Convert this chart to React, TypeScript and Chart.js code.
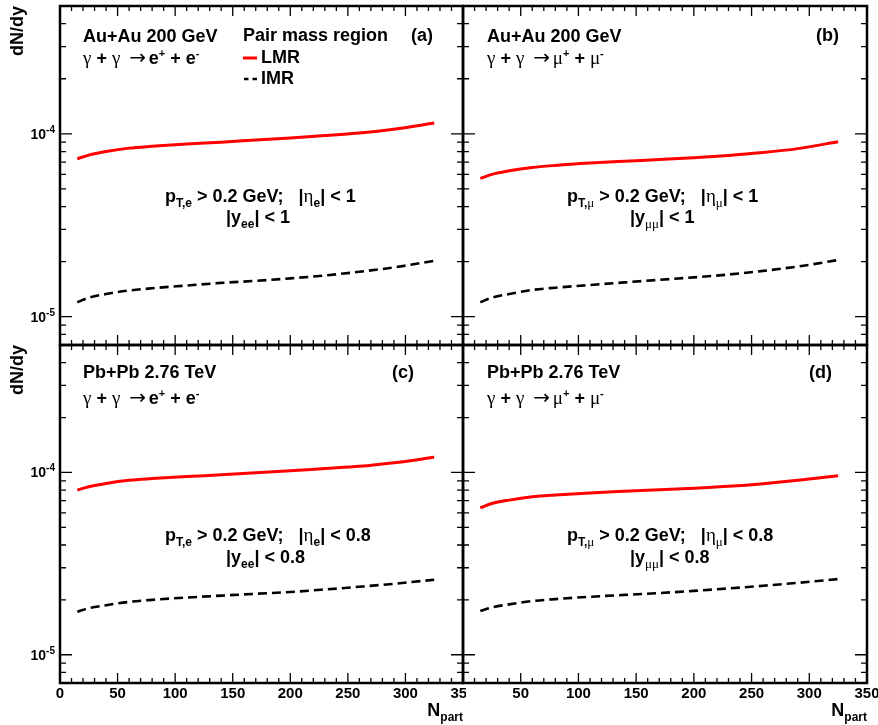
import React, { useEffect, useRef } from "react";
import { Chart, registerables } from "chart.js";
Chart.register(...registerables);

// ---------------- data ----------------
const nPart = [15, 25, 40, 60, 80, 110, 140, 170, 200, 230, 260, 290, 325];
const lmrAuAuEE = [7.3e-5, 7.65e-5, 8.0e-5, 8.35e-5, 8.55e-5, 8.8e-5, 9.0e-5, 9.25e-5, 9.5e-5, 9.8e-5, 1.01e-4, 1.06e-4, 1.145e-4];
const imrAuAuEE = [1.2e-5, 1.27e-5, 1.33e-5, 1.39e-5, 1.43e-5, 1.48e-5, 1.53e-5, 1.57e-5, 1.62e-5, 1.68e-5, 1.76e-5, 1.86e-5, 2.02e-5];
const lmrAuAuMuMu = [5.7e-5, 6.0e-5, 6.28e-5, 6.55e-5, 6.72e-5, 6.92e-5, 7.08e-5, 7.23e-5, 7.4e-5, 7.62e-5, 7.9e-5, 8.3e-5, 9.05e-5];
const imrAuAuMuMu = [1.2e-5, 1.27e-5, 1.33e-5, 1.4e-5, 1.44e-5, 1.49e-5, 1.54e-5, 1.59e-5, 1.64e-5, 1.7e-5, 1.78e-5, 1.88e-5, 2.04e-5];
const lmrPbPbEE = [8.0e-5, 8.35e-5, 8.7e-5, 9.05e-5, 9.25e-5, 9.5e-5, 9.7e-5, 9.95e-5, 1.02e-4, 1.05e-4, 1.08e-4, 1.13e-4, 1.21e-4];
const imrPbPbEE = [1.72e-5, 1.8e-5, 1.87e-5, 1.95e-5, 2.0e-5, 2.06e-5, 2.11e-5, 2.16e-5, 2.21e-5, 2.28e-5, 2.36e-5, 2.45e-5, 2.58e-5];
const lmrPbPbMuMu = [6.4e-5, 6.75e-5, 7.05e-5, 7.35e-5, 7.52e-5, 7.72e-5, 7.88e-5, 8.03e-5, 8.2e-5, 8.4e-5, 8.68e-5, 9.05e-5, 9.6e-5];
const imrPbPbMuMu = [1.74e-5, 1.82e-5, 1.89e-5, 1.97e-5, 2.02e-5, 2.08e-5, 2.13e-5, 2.18e-5, 2.24e-5, 2.31e-5, 2.39e-5, 2.48e-5, 2.6e-5];

const xTickLabels = [0, 50, 100, 150, 200, 250, 300, 350];
const yLabelDecades = [-4, -5];
const xMin = 0;
const xMax = 350;
const yMin = 7e-6;
const yMax = 5e-4;

// ---------------- styling helpers ----------------
const B = (s: number) => `bold ${s}px "Liberation Sans", Arial, Helvetica, sans-serif`;
const SY = (s: number) => `${s}px "Liberation Serif", "Times New Roman", serif`;
const AR = (s: number) => `${s}px "DejaVu Sans", sans-serif`;

type Seg = { t: string; f: string; dy?: number };
type Txt = { segs: Seg[]; x: number; y: number; align?: "left" | "center" | "right" };

function drawRich(ctx: CanvasRenderingContext2D, segs: Seg[], x: number, y: number, align: string = "left") {
  let w = 0;
  for (const s of segs) {
    ctx.font = s.f;
    w += ctx.measureText(s.t).width;
  }
  let cx = align === "left" ? x : align === "center" ? x - w / 2 : x - w;
  ctx.textAlign = "left";
  ctx.textBaseline = "alphabetic";
  ctx.fillStyle = "#000";
  for (const s of segs) {
    ctx.font = s.f;
    ctx.fillText(s.t, cx, y + (s.dy || 0));
    cx += ctx.measureText(s.t).width;
  }
}

const reaction = (lep: Seg): Seg[] => [
  { t: "γ", f: SY(19) },
  { t: " + ", f: B(18) },
  { t: "γ", f: SY(19) },
  { t: "  ", f: SY(18) },
  { t: "→", f: AR(20) },
  { t: " ", f: SY(11) },
  lep,
  { t: "+", f: B(11), dy: -7 },
  { t: " + ", f: B(18) },
  lep,
  { t: "-", f: B(11), dy: -7 },
];
const reactionEE = reaction({ t: "e", f: B(18) });
const reactionMuMu = reaction({ t: "μ", f: SY(19) });

const cutLineE = (lim: string): Seg[] => [
  { t: "p", f: B(18) },
  { t: "T,e", f: B(12), dy: 5 },
  { t: " > 0.2 GeV;   |", f: B(18) },
  { t: "η", f: SY(19) },
  { t: "e", f: B(12), dy: 5 },
  { t: "| < " + lim, f: B(18) },
];
const cutLine2E = (lim: string): Seg[] => [
  { t: "|y", f: B(18) },
  { t: "ee", f: B(12), dy: 5 },
  { t: "| < " + lim, f: B(18) },
];
const cutLineMu = (lim: string): Seg[] => [
  { t: "p", f: B(18) },
  { t: "T,", f: B(12), dy: 5 },
  { t: "μ", f: SY(13), dy: 5 },
  { t: " > 0.2 GeV;   |", f: B(18) },
  { t: "η", f: SY(19) },
  { t: "μ", f: SY(13), dy: 5 },
  { t: "| < " + lim, f: B(18) },
];
const cutLine2Mu = (lim: string): Seg[] => [
  { t: "|y", f: B(18) },
  { t: "μμ", f: SY(13), dy: 5 },
  { t: "| < " + lim, f: B(18) },
];

type Panel = {
  left: number;
  top: number;
  w: number;
  h: number;
  pad: { left: number; top: number; right: number; bottom: number };
  lmr: number[];
  imr: number[];
  xLabels: boolean;
  skipZero: boolean;
  yLabels: boolean;
  legend: boolean;
  texts: Txt[];
};

const PANELS: Panel[] = [
  {
    left: 0, top: 0, w: 466, h: 348,
    pad: { left: 60, top: 6, right: 3, bottom: 3 },
    lmr: lmrAuAuEE, imr: imrAuAuEE,
    xLabels: false, skipZero: false, yLabels: true, legend: true,
    texts: [
      { segs: [{ t: "Au+Au 200 GeV", f: B(18) }], x: 83, y: 42 },
      { segs: reactionEE, x: 83, y: 64 },
      { segs: [{ t: "(a)", f: B(18) }], x: 411, y: 41 },
      { segs: cutLineE("1"), x: 165, y: 202 },
      { segs: cutLine2E("1"), x: 226, y: 223 },
    ],
  },
  {
    left: 460, top: 0, w: 418, h: 348,
    pad: { left: 3, top: 6, right: 11, bottom: 3 },
    lmr: lmrAuAuMuMu, imr: imrAuAuMuMu,
    xLabels: false, skipZero: true, yLabels: false, legend: false,
    texts: [
      { segs: [{ t: "Au+Au 200 GeV", f: B(18) }], x: 487, y: 42 },
      { segs: reactionMuMu, x: 487, y: 64 },
      { segs: [{ t: "(b)", f: B(18) }], x: 816, y: 41 },
      { segs: cutLineMu("1"), x: 567, y: 202 },
      { segs: cutLine2Mu("1"), x: 630, y: 223 },
    ],
  },
  {
    left: 0, top: 342, w: 466, h: 383,
    pad: { left: 60, top: 3, right: 3, bottom: 42 },
    lmr: lmrPbPbEE, imr: imrPbPbEE,
    xLabels: true, skipZero: false, yLabels: true, legend: false,
    texts: [
      { segs: [{ t: "Pb+Pb 2.76 TeV", f: B(18) }], x: 83, y: 378 },
      { segs: reactionEE, x: 83, y: 404 },
      { segs: [{ t: "(c)", f: B(18) }], x: 392, y: 378 },
      { segs: cutLineE("0.8"), x: 165, y: 541 },
      { segs: cutLine2E("0.8"), x: 226, y: 563 },
    ],
  },
  {
    left: 460, top: 342, w: 418, h: 383,
    pad: { left: 3, top: 3, right: 11, bottom: 42 },
    lmr: lmrPbPbMuMu, imr: imrPbPbMuMu,
    xLabels: true, skipZero: true, yLabels: false, legend: false,
    texts: [
      { segs: [{ t: "Pb+Pb 2.76 TeV", f: B(18) }], x: 487, y: 378 },
      { segs: reactionMuMu, x: 487, y: 404 },
      { segs: [{ t: "(d)", f: B(18) }], x: 809, y: 378 },
      { segs: cutLineMu("0.8"), x: 567, y: 541 },
      { segs: cutLine2Mu("0.8"), x: 630, y: 563 },
    ],
  },
];

function makePlugin(p: Panel) {
  return {
    id: "rootStyle",
    afterDraw(chart: any) {
      const ctx: CanvasRenderingContext2D = chart.ctx;
      const xs = chart.scales.x;
      const ys = chart.scales.y;
      const { left, right, top, bottom } = chart.chartArea;
      const ox = p.left;
      const oy = p.top;
      ctx.save();
      ctx.strokeStyle = "#000";
      // ticks
      ctx.lineWidth = 1.3;
      ctx.beginPath();
      for (let v = xMin; v <= xMax; v += 10) {
        const px = xs.getPixelForValue(v);
        const len = v % 50 === 0 ? 10 : 5;
        ctx.moveTo(px, bottom);
        ctx.lineTo(px, bottom - len);
        ctx.moveTo(px, top);
        ctx.lineTo(px, top + len);
      }
      for (let e = -6; e <= -3; e++) {
        for (let m = 1; m <= 9; m++) {
          const v = m * Math.pow(10, e);
          if (v < yMin * 0.999 || v > yMax * 1.001) continue;
          const py = ys.getPixelForValue(v);
          const len = m === 1 ? 12 : 6;
          ctx.moveTo(left, py);
          ctx.lineTo(left + len, py);
          ctx.moveTo(right, py);
          ctx.lineTo(right - len, py);
        }
      }
      ctx.stroke();
      // frame
      ctx.lineWidth = 2.5;
      ctx.strokeRect(left, top, right - left, bottom - top);

      // x tick labels
      if (p.xLabels) {
        for (const v of xTickLabels) {
          if (p.skipZero && v === 0) continue;
          const px = xs.getPixelForValue(v);
          drawRich(ctx, [{ t: String(v), f: B(15) }], px, 698 - oy, "center");
        }
        drawRich(
          ctx,
          [
            { t: "N", f: B(18) },
            { t: "part", f: B(12), dy: 5 },
          ],
          right,
          716 - oy,
          "right"
        );
      }
      // y tick labels + title
      if (p.yLabels) {
        for (const d of yLabelDecades) {
          const py = ys.getPixelForValue(Math.pow(10, d));
          drawRich(
            ctx,
            [
              { t: "10", f: B(14) },
              { t: String(d), f: B(10), dy: -6 },
            ],
            55 - ox,
            py + 5,
            "right"
          );
        }
        ctx.save();
        ctx.translate(23 - ox, top);
        ctx.rotate(-Math.PI / 2);
        ctx.font = B(18);
        ctx.fillStyle = "#000";
        ctx.textAlign = "right";
        ctx.textBaseline = "alphabetic";
        ctx.fillText("dN/dy", 0, 0);
        ctx.restore();
      }
      // annotations
      for (const t of p.texts) drawRich(ctx, t.segs, t.x - ox, t.y - oy, t.align || "left");
      // legend
      if (p.legend) {
        drawRich(ctx, [{ t: "Pair mass region", f: B(18) }], 243 - ox, 41 - oy);
        ctx.strokeStyle = "#ff0000";
        ctx.lineWidth = 3;
        ctx.beginPath();
        ctx.moveTo(243 - ox, 58 - oy);
        ctx.lineTo(257 - ox, 58 - oy);
        ctx.stroke();
        drawRich(ctx, [{ t: "LMR", f: B(18) }], 261 - ox, 63 - oy);
        ctx.strokeStyle = "#000";
        ctx.lineWidth = 2.5;
        ctx.beginPath();
        ctx.moveTo(244 - ox, 79 - oy);
        ctx.lineTo(248.5 - ox, 79 - oy);
        ctx.moveTo(252.5 - ox, 79 - oy);
        ctx.lineTo(257 - ox, 79 - oy);
        ctx.stroke();
        drawRich(ctx, [{ t: "IMR", f: B(18) }], 261 - ox, 84 - oy);
      }
      ctx.restore();
    },
  };
}

function makeConfig(p: Panel): any {
  return {
    type: "line",
    data: {
      datasets: [
        {
          label: "LMR",
          data: nPart.map((x, i) => ({ x, y: p.lmr[i] })),
          borderColor: "#ff0000",
          borderWidth: 3,
          pointRadius: 0,
          fill: false,
          cubicInterpolationMode: "monotone",
        },
        {
          label: "IMR",
          data: nPart.map((x, i) => ({ x, y: p.imr[i] })),
          borderColor: "#000000",
          borderWidth: 2.6,
          borderDash: [9, 5],
          pointRadius: 0,
          fill: false,
          cubicInterpolationMode: "monotone",
        },
      ],
    },
    options: {
      animation: false,
      responsive: false,
      events: [],
      layout: { padding: p.pad },
      plugins: { legend: { display: false }, tooltip: { enabled: false } },
      scales: {
        x: { type: "linear", min: xMin, max: xMax, display: false },
        y: { type: "logarithmic", min: yMin, max: yMax, display: false },
      },
    },
    plugins: [makePlugin(p)],
  };
}

export default function App() {
  const refs = useRef<(HTMLCanvasElement | null)[]>([]);
  useEffect(() => {
    const charts = PANELS.map((p, i) => new Chart(refs.current[i] as HTMLCanvasElement, makeConfig(p)));
    return () => charts.forEach((c) => c.destroy());
  }, []);
  return (
    <div style={{ position: "absolute", left: 0, top: 0, width: 878, height: 725, background: "#fff" }}>
      {PANELS.map((p, i) => (
        <canvas
          key={i}
          ref={(el) => {
            refs.current[i] = el;
          }}
          width={p.w}
          height={p.h}
          style={{ position: "absolute", left: p.left, top: p.top, width: p.w, height: p.h }}
        />
      ))}
    </div>
  );
}
